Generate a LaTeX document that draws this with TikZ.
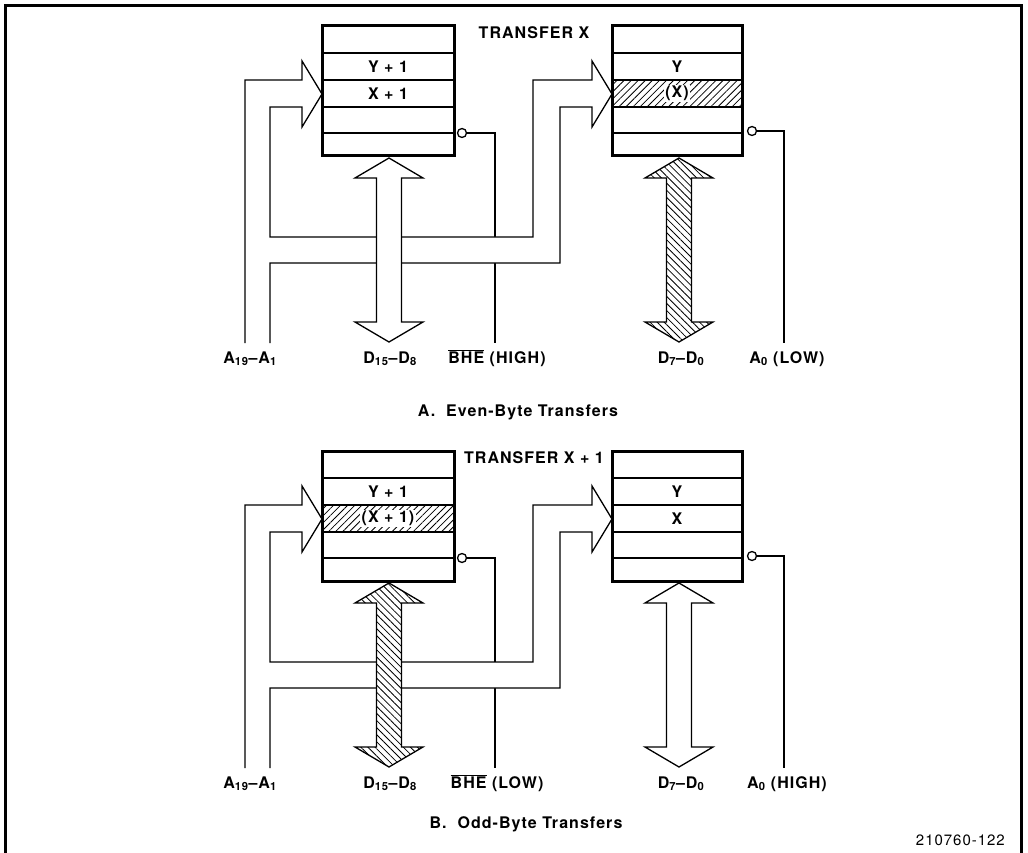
\documentclass[tikz,border=0pt]{standalone}
\usepackage{fontspec}
\setmainfont{TeX Gyre Heros}[LetterSpace=6.5]
\usetikzlibrary{patterns.meta,positioning,calc}

\tikzset{
  wire/.style={line width=1.3pt},
  frame/.style={line width=3pt},
  bank/.style={draw, line width=3pt, fill=white, inner sep=0pt,
    minimum width=#1, minimum height=130pt},
  bubble/.style={draw, circle, line width=1.3pt, fill=white,
    minimum size=9pt, inner sep=0pt},
  pin/.style={font=\bfseries\fontsize{16}{19}\selectfont, anchor=base, inner sep=0pt},
  cell/.style={font=\bfseries\fontsize{16}{19}\selectfont, inner sep=1.5pt},
  hatchrow/.style={pattern={Lines[angle=45,distance=5pt,line width=0.8pt]}},
  hatchbus/.style={preaction={fill=white},
    pattern={Lines[angle=-45,distance=5pt,line width=0.8pt]}},
}

% double headed data bus arrow below a bank, centred on x=#2
\newcommand{\busarrow}[2]{%
  \draw[wire,#1] (#2,158) -- ++(34,20) -- ++(-21.5,0) -- ++(0,144) -- ++(21.5,0)
    -- ++(-34,20) -- ++(-34,-20) -- ++(21.5,0) -- ++(0,-144) -- ++(-21.5,0) -- cycle;}

\begin{document}
\begin{tikzpicture}[x=1pt,y=-1pt]
  \useasboundingbox (0,0) rectangle (1028,853);

  % Outer frame, open at the bottom
  \draw[frame] (5,853) -- (5,6) -- (1021.5,6) -- (1021.5,853);

  % Parts common to both panels
  \foreach \dy/\p in {0/A,425/B} {
    \begin{scope}[shift={(0,\dy)}]
      % Byte enable lines (the address bus hides them where it crosses)
      \node[bubble] (bubOdd\p) at (462,133) {};
      \node[bubble] (bubEven\p) at (752,131) {};
      \coordinate (bheEnd\p) at (495,343);
      \coordinate (aEnd\p) at (784,343);
      \draw[wire] (bubOdd\p.east) -| (bheEnd\p);
      \draw[wire] (bubEven\p.east) -| (aEnd\p);

      % Address bus A19-A1 into both banks
      \filldraw[wire, fill=white] (245,343) -- (245,80) -- (302,80) -- (302,61)
        -- (322,94) -- (302,127) -- (302,107) -- (270,107) -- (270,237)
        -- (533,237) -- (533,80) -- (592,80) -- (592,61) -- (612,94)
        -- (592,127) -- (592,107) -- (560,107) -- (560,263) -- (270,263)
        -- (270,343);

      % Memory banks: odd bytes (left), even bytes (right)
      \node[bank=132pt] (odd\p) at (388,91) {};
      \node[bank=130pt] (even\p) at (677,91) {};
      \foreach \r in {53,80,107,133}
        \draw[wire] (322,\r) -- (454,\r) (612,\r) -- (742,\r);
    \end{scope}
  }

  % ---- A. Even-byte transfers ----
  \fill[hatchrow] (612,80) rectangle (742,107);
  \node[cell] (yOddA) at (388,66.5) {Y + 1};
  \node[cell] (xOddA) at (388,93.5) {X + 1};
  \node[cell] (yEvenA) at (677,66.5) {Y};
  \node[cell, fill=white] (xEvenA) at (677,93.5) {(X)};
  \busarrow{fill=white}{389}
  \busarrow{hatchbus}{679}

  \node[pin] (xferA) at (534,38.5) {TRANSFER X};
  \node[pin] (addrA) at (250,363) {A\textsubscript{19}--A\textsubscript{1}};
  \node[pin] (hiDataA) at (390,363) {D\textsubscript{15}--D\textsubscript{8}};
  \node[pin] (bheA) at (497,363) {$\overline{\hbox{BHE}}$ (HIGH)};
  \node[pin] (loDataA) at (681,363) {D\textsubscript{7}--D\textsubscript{0}};
  \node[pin] (aZeroA) at (787,363) {A\textsubscript{0} (LOW)};
  \node[pin] (capA) at (518,416) {A.\ \ Even-Byte Transfers};

  % ---- B. Odd-byte transfers ----
  \begin{scope}[shift={(0,425)}]
    \fill[hatchrow] (322,80) rectangle (454,107);
    \node[cell] (yOddB) at (388,66.5) {Y + 1};
    \node[cell, fill=white] (xOddB) at (388,93.5) {(X + 1)};
    \node[cell] (yEvenB) at (677,66.5) {Y};
    \node[cell] (xEvenB) at (677,93.5) {X};
    \busarrow{hatchbus}{389}
    \busarrow{fill=white}{679}

    \node[pin] (xferB) at (534,38.5) {TRANSFER X + 1};
    \node[pin] (addrB) at (250,363) {A\textsubscript{19}--A\textsubscript{1}};
    \node[pin] (hiDataB) at (390,363) {D\textsubscript{15}--D\textsubscript{8}};
    \node[pin] (bheB) at (497,363) {$\overline{\hbox{BHE}}$ (LOW)};
    \node[pin] (loDataB) at (681,363) {D\textsubscript{7}--D\textsubscript{0}};
    \node[pin] (aZeroB) at (787,363) {A\textsubscript{0} (HIGH)};
    \node[pin] (capB) at (526,403) {B.\ \ Odd-Byte Transfers};
  \end{scope}

  \node[anchor=base east, inner sep=0pt, font=\fontsize{15}{18}\selectfont]
    (figNo) at (1005,845.5) {210760-122};
\end{tikzpicture}
\end{document}
